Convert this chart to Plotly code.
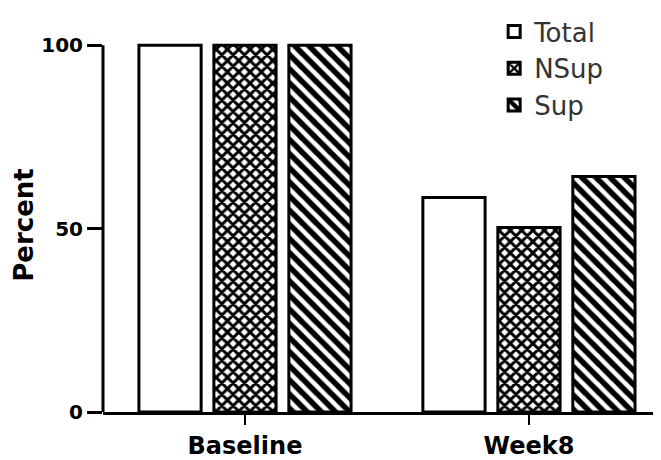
import plotly.graph_objects as go

categories = ["Baseline", "Week8"]
series_names = ["Total", "NSup", "Sup"]
total_vals = [100, 58.5]
nsup_vals = [100, 50.3]
sup_vals = [100, 64.2]
y_ticks = [0, 50, 100]

BOLD = "DejaVu Sans, Arial, sans-serif"
LEG = "DejaVu Sans, Arial, sans-serif"

patterns = [
    dict(shape="", fgcolor="black", bgcolor="white"),
    dict(shape="x", fgcolor="black", bgcolor="white", size=8, solidity=0.6, fgopacity=1),
    dict(shape="\\", fgcolor="black", bgcolor="white", size=10, solidity=0.55, fgopacity=1),
]

fig = go.Figure()
for i, (name, vals) in enumerate(zip(series_names, [total_vals, nsup_vals, sup_vals])):
    fig.add_trace(go.Bar(
        x=categories, y=vals, name=name,
        marker=dict(color="white", line=dict(color="black", width=3), pattern=patterns[i]),
    ))

fig.update_layout(
    width=653, height=452,
    margin=dict(l=95, r=0, t=21, b=45),
    paper_bgcolor="white", plot_bgcolor="white",
    barmode="group", bargap=0.208, bargroupgap=0.17,
    font=dict(family=BOLD, color="black"),
    legend=dict(x=0.701, y=1.08, xanchor="left", yanchor="top",
                font=dict(size=26, color="#333", family=LEG),
                bgcolor="rgba(0,0,0,0)"),
    xaxis=dict(range=[-0.5, 1.465], showline=True, linecolor="black", linewidth=3,
               ticks="outside", ticklen=10, tickwidth=2, tickcolor="black",
               tickfont=dict(size=24, family=BOLD, weight="bold"),
               showgrid=False, zeroline=False),
    yaxis=dict(range=[0, 102], showline=False, tickvals=y_ticks,
               ticks="outside", ticklen=15, tickwidth=2.5, tickcolor="black",
               tickfont=dict(size=20, family=BOLD, weight="bold"),
               showgrid=False, zeroline=False,
               title=dict(text="Percent", font=dict(size=26, family=BOLD, weight="bold"), standoff=0)),
)
fig.add_shape(type="line", xref="paper", yref="y", x0=0, x1=0, y0=0, y1=100,
              line=dict(color="black", width=3))
fig.write_html("out.html")
